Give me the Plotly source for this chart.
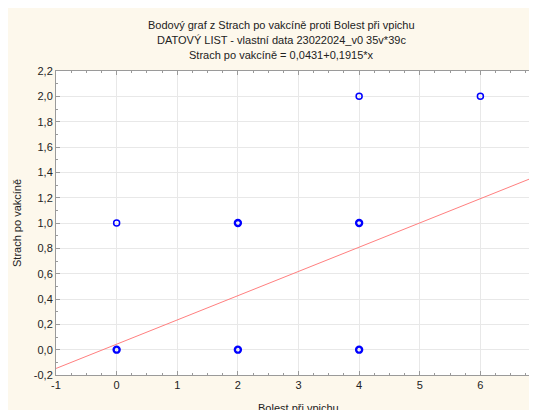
import plotly.graph_objects as go

# Data
bolest = [0, 0, 2, 2, 4, 4, 4, 6]          # x: Bolest při vpichu
strach = [0, 1, 0, 1, 0, 1, 2, 2]          # y: Strach po vakcíně
pocet = [12, 1, 4, 5, 3, 4, 1, 1]          # estimated number of overlapping observations
intercept = 0.0431
slope = 0.1915

x_ticks = [-1, 0, 1, 2, 3, 4, 5, 6]
x_tick_text = ["-1", "0", "1", "2", "3", "4", "5", "6"]
y_ticks = [-0.2, 0.0, 0.2, 0.4, 0.6, 0.8, 1.0, 1.2, 1.4, 1.6, 1.8, 2.0, 2.2]
y_tick_text = ["-0,2", "0,0", "0,2", "0,4", "0,6", "0,8", "1,0", "1,2", "1,4", "1,6", "1,8", "2,0", "2,2"]

title_lines = [
    "Bodový graf z Strach po vakcíně proti Bolest při vpichu",
    "DATOVÝ LIST - vlastní data 23022024_v0 35v*39c",
    "Strach po vakcíně = 0,0431+0,1915*x",
]

FONT = "Liberation Sans, Arial, sans-serif"
TXT = "#222222"
CREAM = "#FDF8EC"

# figure geometry (page has an 8px body margin)
OFF = 8
W, H = 546, 420
L = 56 - OFF
T = 70.8 - OFF
PH = 374.6 - 70.8
PW = 8 * 60.6
R = W - L - PW
B = H - T - PH

def py(win_y):
    return (T + PH - (win_y - OFF)) / PH

def px(win_x):
    return ((win_x - OFF) - L) / PW

fig = go.Figure()

# regression line
line_x = [-1, 7]
line_y = [intercept + slope * v for v in line_x]
fig.add_trace(go.Scatter(x=line_x, y=line_y, mode="lines",
                         line=dict(color="#FF7F7F", width=1), hoverinfo="skip",
                         showlegend=False))

widths = [2.4 if c > 1 else 1.5 for c in pocet]
fig.add_trace(go.Scatter(x=bolest, y=strach, mode="markers",
                         marker=dict(symbol="circle-open", size=6, color="#0000FF",
                                     line=dict(color="#0000FF", width=widths)),
                         showlegend=False))

for txt, yc in zip(title_lines, [24.7, 40, 54.5]):
    fig.add_annotation(text=txt, xref="paper", yref="paper", x=px(281), y=py(yc),
                       xanchor="center", yanchor="middle", showarrow=False,
                       font=dict(size=11, color=TXT, family=FONT))

fig.add_annotation(text="Bolest při vpichu", xref="x", yref="paper", x=3, y=py(408),
                   xanchor="center", yanchor="middle", showarrow=False,
                   font=dict(size=11, color=TXT, family=FONT))
fig.add_annotation(text="Strach po vakcíně", xref="paper", yref="paper", x=px(17), y=0.5,
                   xanchor="center", yanchor="middle", showarrow=False, textangle=-90,
                   font=dict(size=11, color=TXT, family=FONT))

fig.update_layout(
    width=W, height=H,
    margin=dict(l=L, r=R, t=T, b=B),
    paper_bgcolor=CREAM, plot_bgcolor="white",
    font=dict(family=FONT, size=11, color=TXT),
    xaxis=dict(range=[-1, 7], tickvals=x_ticks, ticktext=x_tick_text,
               showgrid=True, gridcolor="#E8E8E8", gridwidth=1, zeroline=False,
               showline=True, linecolor="#9A9A9A", linewidth=1, mirror="ticks",
               ticks="inside", ticklen=4, tickcolor="#9A9A9A",
               minor=dict(dtick=0.25, ticks="inside", ticklen=2, tickcolor="#9A9A9A", showgrid=False),
               tickfont=dict(size=11, color=TXT)),
    yaxis=dict(range=[-0.2, 2.2], tickvals=y_ticks, ticktext=y_tick_text,
               showgrid=True, gridcolor="#E8E8E8", gridwidth=1, zeroline=False,
               showline=True, linecolor="#9A9A9A", linewidth=1, mirror="ticks",
               ticks="inside", ticklen=4, tickcolor="#9A9A9A",
               minor=dict(dtick=0.1, tick0=0, ticks="inside", ticklen=2, tickcolor="#9A9A9A", showgrid=False),
               tickfont=dict(size=11, color=TXT)),
)

fig.write_html("out.html")
